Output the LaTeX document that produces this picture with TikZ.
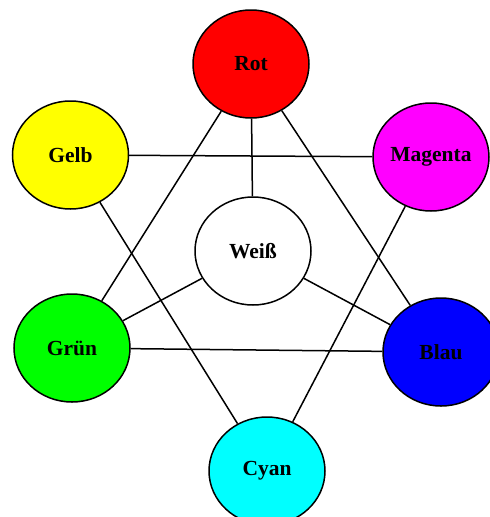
\documentclass[tikz,border=0pt]{standalone}
\usepackage{fontspec}
\setmainfont{Liberation Serif}
\usetikzlibrary{shapes.geometric}
\definecolor{cRot}{RGB}{255,0,0}
\definecolor{cGelb}{RGB}{255,255,0}
\definecolor{cMagenta}{RGB}{255,0,255}
\definecolor{cGruen}{RGB}{0,255,0}
\definecolor{cBlau}{RGB}{0,0,255}
\definecolor{cCyan}{RGB}{0,255,255}
\begin{document}
\begin{tikzpicture}[x=1pt,y=-1pt,
  colornode/.style={ellipse,draw=black,line width=1.5pt,minimum width=116pt,minimum height=108pt,inner sep=0pt,font=\fontsize{21.5}{25}\selectfont\bfseries},
  link/.style={draw=black,line width=1.5pt}]
\useasboundingbox (0,0) rectangle (490,517);
\node[colornode,fill=cRot] (rot) at (251,64) {Rot};
\node[colornode,fill=cGelb] (gelb) at (70.5,155) {Gelb};
\node[colornode,fill=cMagenta] (magenta) at (431,157) {Magenta};
\node[colornode,fill=white] (weiss) at (253,251) {Weiß};
\node[colornode,fill=cGruen] (gruen) at (72,348) {Grün};
\node[colornode,fill=cBlau] (blau) at (441,352) {Blau};
\node[colornode,fill=cCyan] (cyan) at (267,471) {Cyan};
\draw[link] (rot) -- (weiss);
\draw[link] (rot) -- (gruen);
\draw[link] (rot) -- (blau);
\draw[link] (gelb) -- (magenta);
\draw[link] (gelb) -- (cyan);
\draw[link] (magenta) -- (cyan);
\draw[link] (weiss) -- (gruen);
\draw[link] (weiss) -- (blau);
\draw[link] (gruen) -- (blau);
\end{tikzpicture}
\end{document}
